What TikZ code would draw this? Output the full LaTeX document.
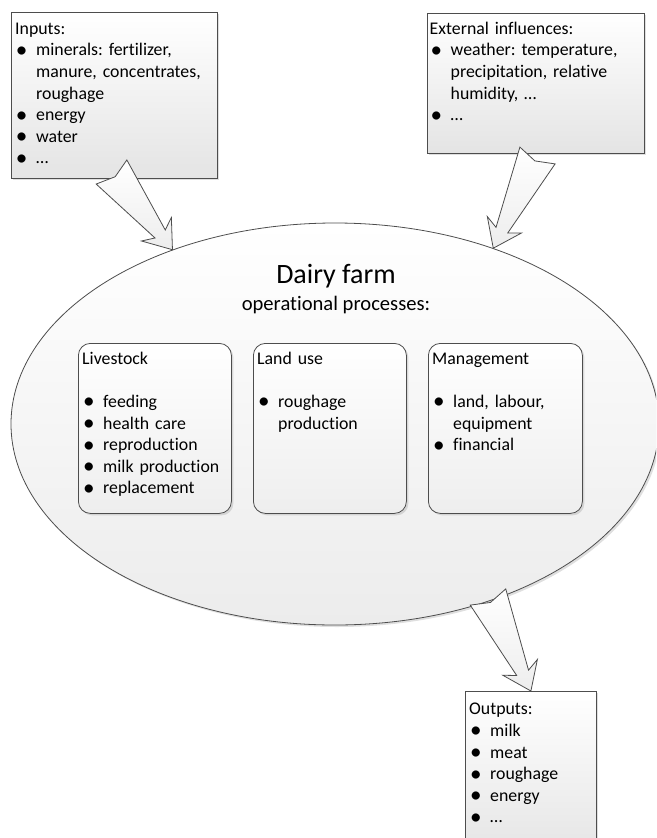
\documentclass[tikz,border=0pt]{standalone}
\usepackage{fontspec}
\setmainfont{Carlito}[Ligatures={NoCommon}]
\usetikzlibrary{calc,shadows,shapes.geometric}
\frenchspacing

\definecolor{edge}{RGB}{77,77,77}
\definecolor{boxend}{RGB}{228,228,228}
\definecolor{ovalend}{RGB}{236,236,236}
\definecolor{innerend}{RGB}{238,238,238}

% bullet and continuation indent for list lines
\newcommand\bl{\makebox[21pt][l]{\hspace{0.8pt}\raisebox{-0.08em}{\scalebox{1.3}{\textbullet}}}}
\newcommand\ct{\hspace*{21pt}}

% tapered block arrow with a notched tail: #1 tail centre, #2 tip
\newcommand\farmarrow[2]{%
  \draw[blockarrow]
    ($(#1)!19.5pt!90:(#2)$) --
    ($(#1)!6pt!(#2)$) --
    ($(#1)!19.5pt!-90:(#2)$) --
    ($(#2)!20pt!(#1)!6.5pt!90:(#1)$) --
    ($(#2)!26pt!(#1)!19pt!90:(#1)$) --
    (#2) --
    ($(#2)!26pt!(#1)!19pt!-90:(#1)$) --
    ($(#2)!20pt!(#1)!6.5pt!-90:(#1)$) -- cycle;}

\begin{document}
\begin{tikzpicture}[x=1pt,y=-1pt,
  softshadow/.style={drop shadow={opacity=0.25,shadow xshift=2pt,shadow yshift=-2pt}},
  infobox/.style={draw=edge,line width=0.8pt,top color=white,bottom color=boxend,
    anchor=north west,inner sep=0pt,softshadow},
  procbox/.style={draw=edge,line width=0.8pt,top color=white,bottom color=innerend,
    rounded corners=12pt,anchor=north west,inner sep=0pt,
    minimum width=153pt,minimum height=170pt,softshadow},
  oval/.style={ellipse,draw=edge,line width=0.8pt,top color=white,bottom color=ovalend,
    inner sep=0pt,softshadow},
  txt/.style={anchor=north west,inner sep=0pt,align=left,
    font=\fontsize{17.8}{21.6}\selectfont},
  blockarrow/.style={draw=edge,line width=0.8pt,line join=miter,
    top color=white,bottom color=gray!14}]

\useasboundingbox (0,0) rectangle (656,838);
\clip (0,0) rectangle (656,838);

% the farm and its operational processes
\node[oval,minimum width=648pt,minimum height=402pt] (farm) at (335,424) {};
\node[anchor=base,inner sep=0pt,font=\fontsize{28}{32}\selectfont] (farmtitle) at (336,283) {Dairy farm};
\node[anchor=base,inner sep=0pt,font=\fontsize{20.6}{24}\selectfont] (farmsub) at (336,310) {operational processes:};

\node[procbox] (livestock) at (78,343) {};
\node[procbox] (landuse) at (253,343) {};
\node[procbox,minimum width=154pt] (management) at (428,343) {};

\node[txt,text width=150pt] (livestocktxt) at (82,349) {\strut Livestock\\ \mbox{}\\
  \bl feeding\\ \bl health care\\ \bl reproduction\\ \bl milk production\\ \bl replacement};
\node[txt,text width=150pt] (landusetxt) at (257,349) {\strut Land use\\ \mbox{}\\
  \bl roughage\\ \ct production};
\node[txt,text width=150pt] (managementtxt) at (432,349) {\strut Management\\ \mbox{}\\
  \bl land, labour,\\ \ct equipment\\ \bl financial};

% inputs, external influences and outputs
\node[infobox,minimum width=206pt,minimum height=166pt] (inputs) at (11,12) {};
\node[txt,text width=200pt] (inputstxt) at (15,19) {\strut Inputs:\\
  \bl minerals: fertilizer,\\ \ct manure, concentrates,\\ \ct roughage\\
  \bl energy\\ \bl water\\ \bl …};

\node[infobox,minimum width=217pt,minimum height=140pt] (external) at (427,13) {};
\node[txt,text width=212pt] (externaltxt) at (429.5,19) {\strut External influences:\\
  \bl weather: temperature,\\ \ct precipitation, relative\\ \ct humidity, …\\ \bl …};

\node[infobox,minimum width=131pt,minimum height=170pt] (outputs) at (465,691) {};
\node[txt,text width=125pt] (outputstxt) at (469,699.5) {\strut Outputs:\\
  \bl milk\\ \bl meat\\ \bl roughage\\ \bl energy\\ \bl …};

% flows into and out of the farm
\coordinate (inTail) at (111.5,172);
\coordinate (inTip) at (farm.133);
\coordinate (exTail) at (537.5,155.5);
\coordinate (exTip) at (farm.48);
\coordinate (outTail) at (488,597);

\farmarrow{inTail}{inTip}
\farmarrow{exTail}{exTip}
\farmarrow{outTail}{outputs.north}

\end{tikzpicture}
\end{document}
